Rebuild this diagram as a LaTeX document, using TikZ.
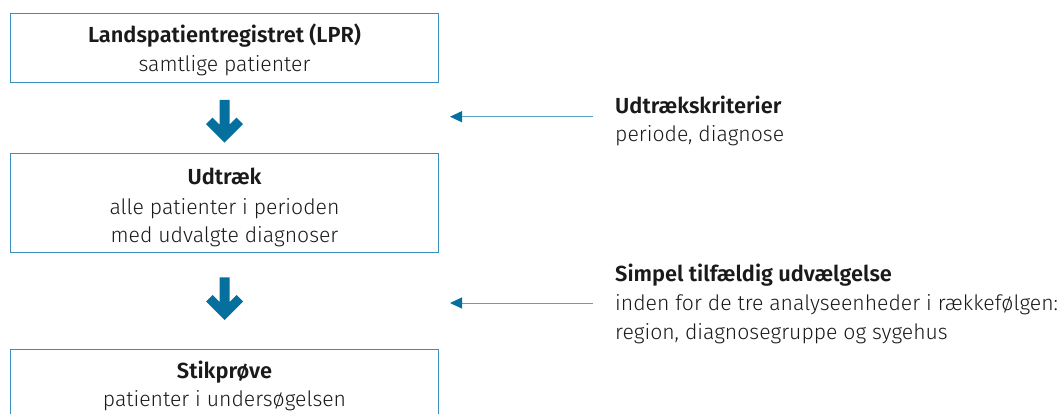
\documentclass[tikz,border=0pt]{standalone}
\usepackage{fontspec}
\setmainfont{Fira Sans}[UprightFont=* Light, BoldFont=* SemiBold]
\usetikzlibrary{arrows.meta}
\definecolor{boxblue}{HTML}{3A8FC0}
\definecolor{darkblue}{HTML}{05709E}
\definecolor{lineblue}{HTML}{5AA3C8}
\definecolor{txt}{HTML}{1A1A1A}
\begin{document}
\begin{tikzpicture}[x=1pt,y=-1pt,
  box/.style={draw=boxblue, line width=1.3pt, minimum width=428pt, inner sep=0pt},
  titletext/.style={font=\bfseries\fontsize{21.8}{24}\selectfont, text=txt, anchor=base, inner sep=0pt},
  subtext/.style={font=\fontsize{21.2}{24}\selectfont, text=txt, anchor=base, inner sep=0pt},
  sidetitle/.style={font=\bfseries\fontsize{21.8}{24}\selectfont, text=txt, anchor=base west, inner sep=0pt},
  sidesub/.style={font=\fontsize{21.2}{24}\selectfont, text=txt, anchor=base west, inner sep=0pt},
  sidearrow/.style={draw=lineblue, line width=1pt, -{Triangle[length=12pt,width=11pt,color=darkblue]}},
  dnarrow/.pic={\fill[darkblue] (-5,0) -- (5,0) -- (5,24.7) -- (12,17.7) -- (18.5,24.2) -- (0,42.7) -- (-18.5,24.2) -- (-12,17.7) -- (-5,24.7) -- cycle;}
]
\useasboundingbox (0,0) rectangle (1059,414);
\clip (0,0) rectangle (1059,414);
% boxes
\node[box, minimum height=69.4pt] (b1) at (224.5,48) {};
\node[box, minimum height=99.4pt] (b2) at (224.5,203) {};
\node[box, minimum height=100pt] (b3) at (224.5,399.3) {};
% box texts
\node[titletext] (t1a) at (224.5,42.7) {Landspatientregistret (LPR)};
\node[subtext] (t1b) at (224.5,71.7) {samtlige patienter};
\node[titletext] (t2a) at (224.5,184) {Udtræk};
\node[subtext] (t2b) at (224.5,214) {alle patienter i perioden};
\node[subtext] (t2c) at (224.5,242.5) {med udvalgte diagnoser};
\node[titletext] (t3a) at (224.5,378) {Stikprøve};
\node[subtext] (t3b) at (224.5,406.7) {patienter i undersøgelsen};
% down arrows
\pic at (224.5,100) {dnarrow};
\pic at (224.5,277.3) {dnarrow};
% side texts
\node[sidetitle] (s1a) at (615,113.3) {Udtrækskriterier};
\node[sidesub] (s1b) at (615,141.7) {periode, diagnose};
\node[sidetitle] (s2a) at (615,281.5) {Simpel tilfældig udvælgelse};
\node[sidesub] (s2b) at (615,310.5) {inden for de tre analyseenheder i rækkefølgen:};
\node[sidesub] (s2c) at (615,339.5) {region, diagnosegruppe og sygehus};
% side arrows
\coordinate (a1s) at (592.7,116.7);
\coordinate (a1e) at (450,116.7);
\coordinate (a2s) at (592.7,303);
\coordinate (a2e) at (450,303);
\draw[sidearrow] (a1s) -- (a1e);
\draw[sidearrow] (a2s) -- (a2e);
\end{tikzpicture}
\end{document}
